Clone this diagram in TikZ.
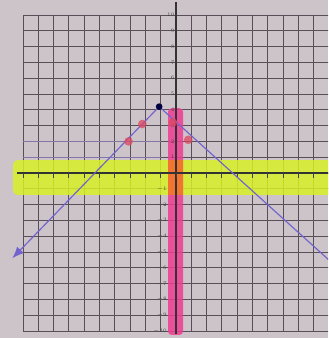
\documentclass[tikz,border=0pt]{standalone}
\usepackage{tikz}
\usetikzlibrary{arrows.meta,positioning,calc}
\definecolor{paper}{RGB}{204,196,200}
\definecolor{gridink}{RGB}{88,78,88}
\definecolor{penblue}{RGB}{115,100,205}
\definecolor{hlyellow}{RGB}{215,240,40}
\definecolor{hlpink}{RGB}{240,60,145}
\definecolor{hlorange}{RGB}{242,120,40}
\definecolor{dotred}{RGB}{222,70,95}
\tikzset{
  gridline/.style={gridink, line width=0.75pt},
  axisline/.style={black!80, line width=1.1pt},
  hlband/.style={line cap=round, opacity=0.85},
  graphline/.style={penblue, line width=1pt},
  plotdot/.style={circle, fill=dotred, fill opacity=0.75, inner sep=0pt,
    minimum size=0.26cm},
  vertexdot/.style={circle, fill=black!75!blue, inner sep=0pt,
    minimum size=0.2cm},
  ylabel/.style={font=\fontsize{4.5}{5}\selectfont, text=black!75,
    inner sep=0.5pt, anchor=east},
}

\begin{document}
\begin{tikzpicture}[x=0.459cm, y=0.474cm]

%% ── Paper ────────────────────────────────────────────────────────────────
\useasboundingbox[fill=paper] (-11.503,-10.443) rectangle (9.935,10.949);
\clip (-11.503,-10.443) rectangle (9.935,10.949);

%% ── Grid ─────────────────────────────────────────────────────────────────
\foreach \k in {-10,...,10} {
  \draw[gridline] (\k,-10) -- (\k,10);
  \draw[gridline] (-10,\k) -- (10,\k);
}
\draw[penblue!70, line width=0.6pt, opacity=0.6] (-10,2) -- (-1,2);
\draw[penblue!70, line width=0.6pt, opacity=0.6] (-10,1) -- (-1,1);

%% ── Highlighted axes ─────────────────────────────────────────────────────
\fill[hlyellow, hlband, rounded corners=4pt] (-10.65,0.82) rectangle (10.2,-1.39);
\fill[hlpink, hlband, rounded corners=3pt] (-0.52,4.1) rectangle (0.46,-10.25);
\fill[hlorange, opacity=0.9] (-0.52,0.82) rectangle (0.46,-1.39);

%% ── Axes ─────────────────────────────────────────────────────────────────
\draw[axisline] (0,-10.2) -- (0,10.8);
\draw[axisline] (-10.4,0) -- (10.2,0);
\foreach \k in {-10,...,10}
  \draw[black!75, line width=0.8pt] (\k,0) -- (\k,-0.3);
\foreach \k in {1,...,10}
  \node[ylabel] at (-0.05,\k) {\k};
\foreach \k in {1,...,10}
  \node[ylabel] at (-0.55,-\k) {$-$\k};

%% ── Graph ────────────────────────────────────────────────────────────────
\coordinate (vtx) at (-1.1,4.2);
\coordinate (lend) at (-10.7,-5.4);
\coordinate (rend) at (10.1,-5.6);
\draw[graphline, -{Latex[length=10pt, width=8pt]}] (vtx) -- (lend);
\draw[graphline] (vtx) -- (rend);

\node[vertexdot] (top) at (vtx) {};
\node[plotdot] (ptA) at (-2.2,3.1) {};
\node[plotdot] (ptB) at (-3.1,2.0) {};
\node[plotdot] (ptC) at (-0.2,3.2) {};
\node[plotdot] (ptD) at (0.8,2.1) {};

\end{tikzpicture}
\end{document}
